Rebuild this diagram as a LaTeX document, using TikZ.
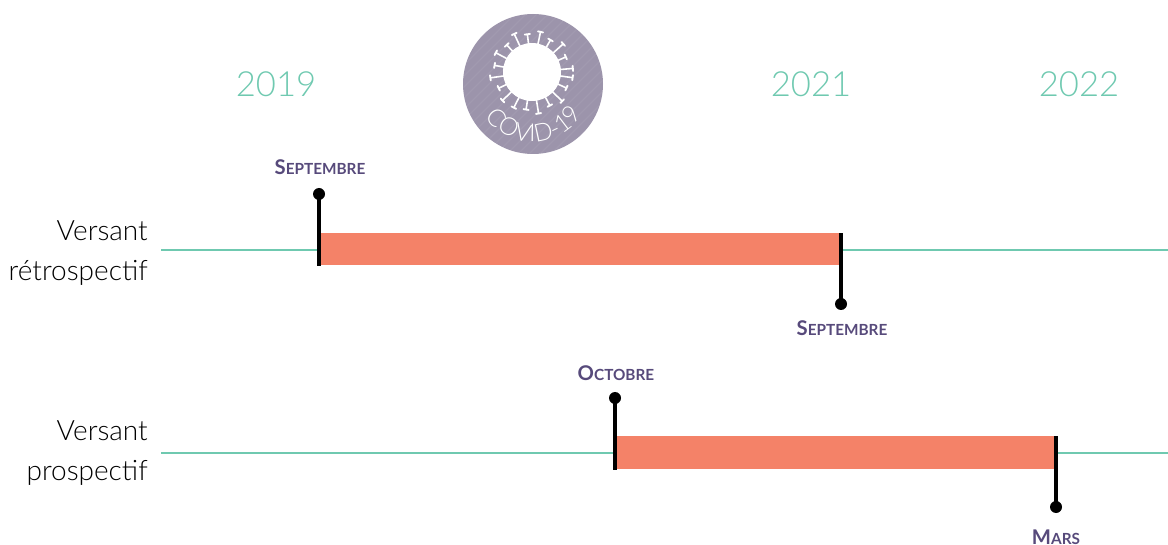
\documentclass[tikz,border=0pt]{standalone}
\usepackage{fontspec}
\setmainfont{Lato Light}
\newfontfamily\capsfont{Lato}
\usetikzlibrary{decorations.text}
\definecolor{tealc}{HTML}{6FC9B0}
\definecolor{barc}{HTML}{F48268}
\definecolor{purp}{HTML}{574A7B}
\definecolor{disc}{HTML}{9C94AB}
\newcommand{\sm}[2]{{\fontsize{15.2}{16}\selectfont #1}{\fontsize{11.5}{13}\selectfont #2}}
\tikzset{
  year/.style={text=tealc,font=\fontsize{26}{30}\selectfont,inner sep=0pt},
  rowlabel/.style={anchor=east,align=right,font=\fontsize{21}{30}\selectfont,text=black,inner sep=0pt},
  month/.style={text=purp,font=\capsfont\bfseries,inner sep=0pt},
  baseline line/.style={draw=tealc,line width=1.3pt},
  barbox/.style={fill=barc,draw=none,inner sep=0pt,anchor=north west},
  tick/.style={draw=black,line width=2.3pt},
  pin/.style={circle,fill=black,minimum size=9pt,inner sep=0pt},
}
\begin{document}
\begin{tikzpicture}[x=0.75pt,y=-0.75pt]
\useasboundingbox (0,0) rectangle (1168,545);
% disc
\fill[disc] (533,84) circle (70);
\begin{scope}
\clip (533,84) circle (70);
\foreach \i in {-10,...,10}{
  \draw[white,opacity=0.06,line width=1pt] (533-80+\i*11,84+80) -- (533+80+\i*11,84-80);
}
\end{scope}
% virus
\fill[white] (532,72) circle (29);
\foreach \a/\r in {5/41,24/37,42/42,60/37,78/41,97/38,115/42,133/37,152/41,170/38,188/42,206/37,224/41,243/40,261/38,279/42,298/38,316/42,335/38,352/41}{
  \begin{scope}[shift={(532,72)},rotate=\a]
    \draw[white,line width=1.2pt] (27,0) -- (\r,0);
    \draw[white,line width=1.4pt,line cap=round] (\r,-2.6) -- (\r,2.6);
  \end{scope}
}
\path[decorate,decoration={text along path,
   text={|\fontsize{18.5}{20}\selectfont\color{white}|COVID-19},text align=center}]
   (533,84) ++(155:58) arc[start angle=155,end angle=22,radius=58];
% years
\node[year] (y19) at (276,84) {2019};
\node[year] (y21) at (811,84) {2021};
\node[year] (y22) at (1079,84) {2022};
% row labels
\node[rowlabel] (r1) at (148,253) {Versant\\rétrospectif};
\node[rowlabel] (r2) at (148,453) {Versant\\prospectif};
% first row
\coordinate (l1a) at (161,250);
\coordinate (l1b) at (1168,250);
\draw[baseline line] (l1a) -- (l1b);
\node[barbox,minimum width=391.5pt,minimum height=24pt] (b1) at (319,233) {};
\node[pin] (p1) at (319,194) {};
\node[pin] (p2) at (841,304) {};
\draw[tick] (p1.center) -- (p1.center |- b1.south);
\draw[tick] (p2.center) -- (p2.center |- b1.north);
\node[month] (m1) at (320,167) {\sm{S}{EPTEMBRE}};
\node[month] (m2) at (842,328) {\sm{S}{EPTEMBRE}};
% second row
\coordinate (l2a) at (161,453);
\coordinate (l2b) at (1168,453);
\draw[baseline line] (l2a) -- (l2b);
\node[barbox,minimum width=330.75pt,minimum height=24.75pt] (b2) at (615,436) {};
\node[pin] (p3) at (615,398) {};
\node[pin] (p4) at (1056,507) {};
\draw[tick] (p3.center) -- (p3.center |- b2.south);
\draw[tick] (p4.center) -- (p4.center |- b2.north);
\node[month] (m3) at (616,373) {\sm{O}{CTOBRE}};
\node[month] (m4) at (1056,537) {\sm{M}{ARS}};
\end{tikzpicture}
\end{document}
